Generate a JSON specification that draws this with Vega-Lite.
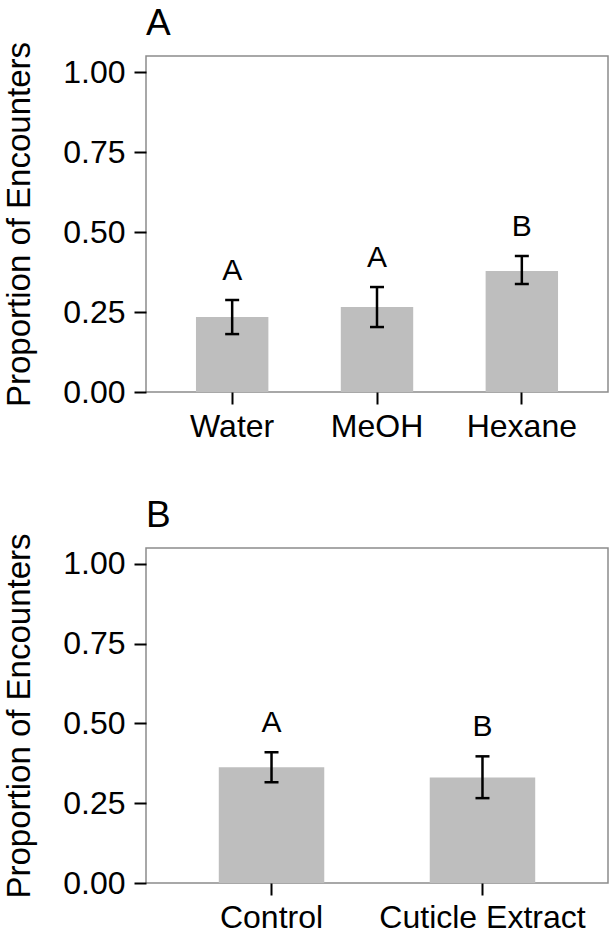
{
  "$schema": "https://vega.github.io/schema/vega-lite/v6.json",
  "padding": {"left": 2, "top": 4, "right": 4, "bottom": 0},
  "spacing": 53,
  "config": {
    "font": "Liberation Sans",
    "view": {"stroke": "#8c8c8c", "strokeWidth": 1.5},
    "axis": {"domain": false, "grid": false, "tickColor": "#000", "tickWidth": 2, "tickSize": 12, "labelColor": "#000", "labelFontSize": 32, "labelLimit": 400, "titleFontSize": 33, "titleColor": "#000", "titleFontWeight": "normal", "labelFont": "Liberation Sans", "titleFont": "Liberation Sans"},
    "title": {"fontSize": 37, "fontWeight": "normal", "anchor": "start", "frame": "group", "color": "#000", "font": "Liberation Sans", "offset": -2}
  },
  "vconcat": [
    {
      "width": 462, "height": 336,
      "title": {"text": "A"},
      "data": {"values": [
        {"treatment": "Water", "mean": 0.234, "lower": 0.181, "upper": 0.2875, "letter": "A"},
        {"treatment": "MeOH", "mean": 0.266, "lower": 0.203, "upper": 0.328, "letter": "A"},
        {"treatment": "Hexane", "mean": 0.378, "lower": 0.3375, "upper": 0.425, "letter": "B"}
      ]},
      "encoding": {"x": {"field": "treatment", "type": "nominal", "sort": null, "scale": {"paddingInner": 0.5, "paddingOuter": 0.345}, "axis": {"title": null, "labelAngle": 0, "labelPadding": 7}}},
      "layer": [
        {"mark": {"type": "bar", "color": "#bebebe"}, "encoding": {"y": {"field": "mean", "type": "quantitative", "scale": {"domain": [0, 1.05], "nice": false}, "axis": {"values": [0, 0.25, 0.5, 0.75, 1], "format": ".2f", "title": "Proportion of Encounters", "labelPadding": 9, "titlePadding": 26}}}},
        {"mark": {"type": "rule", "color": "#000", "strokeWidth": 2.5}, "encoding": {"y": {"field": "lower", "type": "quantitative", "title": "Proportion of Encounters"}, "y2": {"field": "upper"}}},
        {"mark": {"type": "tick", "color": "#000", "thickness": 2.5, "size": 14, "opacity": 1}, "encoding": {"y": {"field": "lower", "type": "quantitative", "title": "Proportion of Encounters"}}},
        {"mark": {"type": "tick", "color": "#000", "thickness": 2.5, "size": 14, "opacity": 1}, "encoding": {"y": {"field": "upper", "type": "quantitative", "title": "Proportion of Encounters"}}},
        {"mark": {"type": "text", "fontSize": 30, "dy": -20, "baseline": "alphabetic", "color": "#000"}, "encoding": {"y": {"field": "upper", "type": "quantitative", "title": "Proportion of Encounters"}, "text": {"field": "letter"}}}
      ]
    },
    {
      "width": 462, "height": 335,
      "title": {"text": "B"},
      "data": {"values": [
        {"treatment": "Control", "mean": 0.3625, "lower": 0.316, "upper": 0.41, "letter": "A"},
        {"treatment": "Cuticle Extract", "mean": 0.331, "lower": 0.266, "upper": 0.397, "letter": "B"}
      ]},
      "encoding": {"x": {"field": "treatment", "type": "nominal", "sort": null, "scale": {"paddingInner": 0.5, "paddingOuter": 0.345}, "axis": {"title": null, "labelAngle": 0, "labelPadding": 7}}},
      "layer": [
        {"mark": {"type": "bar", "color": "#bebebe"}, "encoding": {"y": {"field": "mean", "type": "quantitative", "scale": {"domain": [0, 1.05], "nice": false}, "axis": {"values": [0, 0.25, 0.5, 0.75, 1], "format": ".2f", "title": "Proportion of Encounters", "labelPadding": 9, "titlePadding": 26}}}},
        {"mark": {"type": "rule", "color": "#000", "strokeWidth": 2.5}, "encoding": {"y": {"field": "lower", "type": "quantitative", "title": "Proportion of Encounters"}, "y2": {"field": "upper"}}},
        {"mark": {"type": "tick", "color": "#000", "thickness": 2.5, "size": 14, "opacity": 1}, "encoding": {"y": {"field": "lower", "type": "quantitative", "title": "Proportion of Encounters"}}},
        {"mark": {"type": "tick", "color": "#000", "thickness": 2.5, "size": 14, "opacity": 1}, "encoding": {"y": {"field": "upper", "type": "quantitative", "title": "Proportion of Encounters"}}},
        {"mark": {"type": "text", "fontSize": 30, "dy": -20, "baseline": "alphabetic", "color": "#000"}, "encoding": {"y": {"field": "upper", "type": "quantitative", "title": "Proportion of Encounters"}, "text": {"field": "letter"}}}
      ]
    }
  ]
}
